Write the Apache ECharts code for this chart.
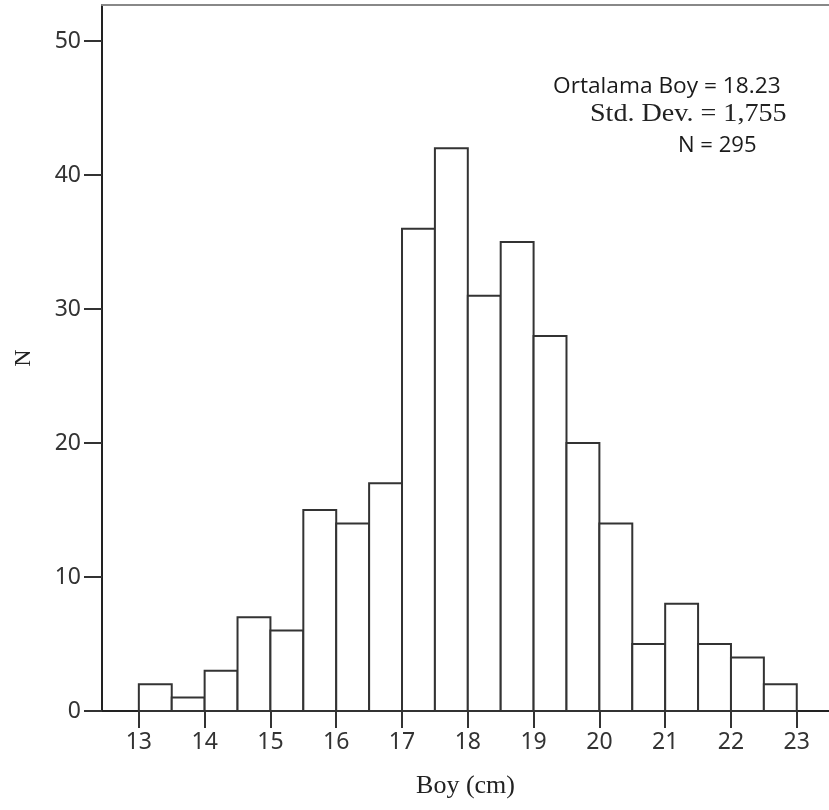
<!DOCTYPE html>
<html>
<head>
<meta charset="utf-8">
<script src="https://cdn.jsdelivr.net/npm/echarts@6/dist/echarts.min.js"></script>
<style>html,body{margin:0;padding:0;background:#fff;}#chart{width:829px;height:810px;}</style>
</head>
<body>
<div id="chart"></div>
<script>
const binStarts = [13, 13.5, 14, 14.5, 15, 15.5, 16, 16.5, 17, 17.5, 18, 18.5, 19, 19.5, 20, 20.5, 21, 21.5, 22, 22.5];
const binWidth = 0.5;
const counts = [2, 1, 3, 7, 6, 15, 14, 17, 36, 42, 31, 35, 28, 20, 14, 5, 8, 5, 4, 2];
const xTicks = [13, 14, 15, 16, 17, 18, 19, 20, 21, 22, 23];
const yTicks = [0, 10, 20, 30, 40, 50];
const xName = 'Boy (cm)';
const yName = 'N';
const statMean = 'Ortalama Boy = 18.23';
const statSD = 'Std. Dev. = 1,755';
const statN = 'N = 295';

const data = binStarts.map((s, i) => [s, s + binWidth, counts[i]]);
const chart = echarts.init(document.getElementById('chart'));
const axisColor = '#222';
chart.setOption({
  animation: false,
  backgroundColor: '#fff',
  grid: { left: 102, right: 0, top: 5, bottom: 99 },
  xAxis: [{
    type: 'value', min: 12.44, max: 23.49, position: 'bottom',
    splitLine: { show: false },
    axisLine: { show: true, onZero: false, lineStyle: { color: axisColor, width: 2 } },
    axisTick: { show: true, length: 17, lineStyle: { color: '#333', width: 2 }, customValues: xTicks },
    axisLabel: { customValues: xTicks, margin: 20, color: '#333', fontFamily: 'Noto Sans', fontSize: 23 },
    name: xName, nameLocation: 'middle', nameGap: 62,
    nameTextStyle: { fontFamily: 'Liberation Serif', fontSize: 26, color: '#222' }
  }, {
    type: 'value', min: 12.44, max: 23.49, position: 'top',
    splitLine: { show: false },
    axisLine: { show: true, onZero: false, lineStyle: { color: '#888', width: 2 } },
    axisTick: { show: false }, axisLabel: { show: false }
  }],
  yAxis: {
    type: 'value', min: 0, max: 52.7,
    splitLine: { show: false },
    axisLine: { show: true, lineStyle: { color: axisColor, width: 2 } },
    axisTick: { show: true, length: 18, lineStyle: { color: '#333', width: 2 }, customValues: yTicks },
    axisLabel: { customValues: yTicks, margin: 21, color: '#333', fontFamily: 'Noto Sans', fontSize: 23 },
    name: yName, nameLocation: 'middle', nameGap: 66,
    nameTextStyle: { fontFamily: 'Liberation Serif', fontSize: 24, color: '#222' }
  },
  series: [{
    type: 'custom',
    xAxisIndex: 0,
    data: data,
    renderItem: function (params, api) {
      const p0 = api.coord([api.value(0), api.value(2)]);
      const p1 = api.coord([api.value(1), 0]);
      return {
        type: 'rect',
        shape: { x: p0[0], y: p0[1], width: p1[0] - p0[0], height: p1[1] - p0[1] },
        style: { fill: '#fff', stroke: '#333', lineWidth: 2 }
      };
    },
    encode: { x: [0, 1], y: 2 },
    z: 1
  }],
  graphic: [
    { type: 'text', x: 553, y: 87, scaleX: 1.08, style: { text: statMean, x: 0, y: 0, align: 'left', verticalAlign: 'middle', font: '21px "Open Sans"', fill: '#1a1a1a' } },
    { type: 'text', x: 590, y: 114, scaleX: 1.08, style: { text: statSD, x: 0, y: 0, align: 'left', verticalAlign: 'middle', font: '26px "Liberation Serif"', fill: '#222' } },
    { type: 'text', x: 678, y: 146, scaleX: 1.05, style: { text: statN, x: 0, y: 0, align: 'left', verticalAlign: 'middle', font: '21px "Open Sans"', fill: '#1a1a1a' } }
  ]
});
</script>
</body>
</html>
